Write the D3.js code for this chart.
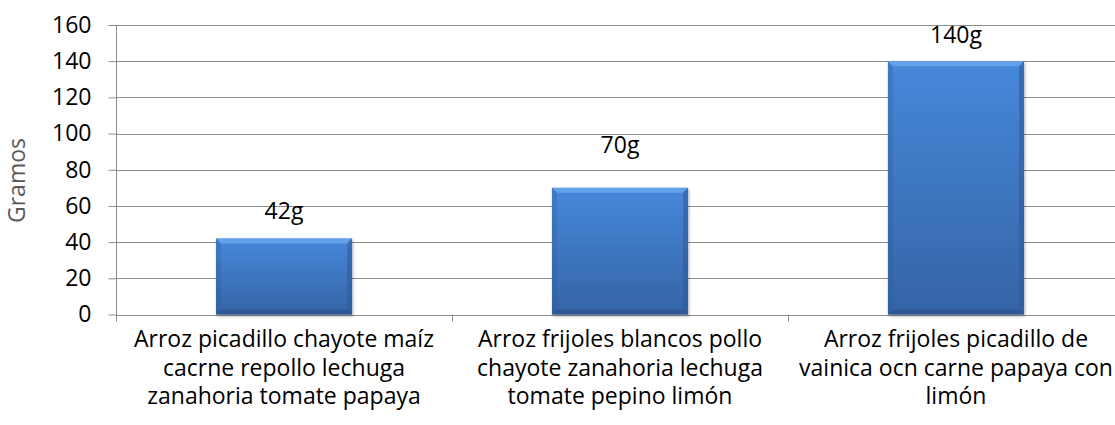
<!DOCTYPE html>
<html>
<head>
<meta charset="utf-8">
<script src="https://cdn.jsdelivr.net/npm/d3@7"></script>
<style>
  html, body { margin: 0; padding: 0; background: #fff; }
  svg { display: block; }
  text { font-family: "Open Sans", Lato, sans-serif; }
</style>
</head>
<body>
<svg id="chart" width="1115" height="425"></svg>
<script>
const categories = [
  ["Arroz picadillo chayote maíz", "cacrne repollo lechuga", "zanahoria tomate papaya"],
  ["Arroz frijoles blancos pollo", "chayote zanahoria lechuga", "tomate pepino limón"],
  ["Arroz frijoles picadillo de", "vainica ocn carne papaya con", "limón"]
];
const values = [42, 70, 140];
const valueLabels = ["42g", "70g", "140g"];
const yTicks = [0, 20, 40, 60, 80, 100, 120, 140, 160];
const yTitle = "Gramos";

(function () {
const svg = d3.select("#chart");
const W = 1115, H = 425;
const mLeft = 116, mRight = 1124, mTop = 25, mBottom = 314.5;
const FS = 23;

const keys = categories.map((c, i) => i);
const xBand = d3.scaleBand().domain(keys).range([mLeft, mRight]).paddingInner(0.595).paddingOuter(0.2976);
const xCat = d3.scaleBand().domain(keys).range([mLeft, mRight]).padding(0);
const y = d3.scaleLinear().domain([0, 160]).range([mBottom, mTop]);

const defs = svg.append("defs");
const grad = defs.append("linearGradient").attr("id", "barGrad").attr("x1", 0).attr("y1", 0).attr("x2", 0).attr("y2", 1);
grad.append("stop").attr("offset", "0%").attr("stop-color", "#4688da");
grad.append("stop").attr("offset", "100%").attr("stop-color", "#3564a6");
const filt = defs.append("filter").attr("id", "shadow").attr("x", "-10%").attr("y", "-10%").attr("width", "130%").attr("height", "130%");
filt.append("feDropShadow").attr("dx", 1).attr("dy", 1.5).attr("stdDeviation", 1.5).attr("flood-color", "#000").attr("flood-opacity", 0.3);

// gridlines
svg.append("g").selectAll("line").data(yTicks).join("line")
  .attr("x1", mLeft).attr("x2", W)
  .attr("y1", d => Math.round(y(d)) + 0.5).attr("y2", d => Math.round(y(d)) + 0.5)
  .attr("stroke", "#8c8c8c").attr("stroke-width", 1);

// y axis
const yAxis = d3.axisLeft(y).tickValues(yTicks).tickSize(8).tickPadding(17);
const yg = svg.append("g").attr("transform", `translate(${mLeft + 0.5},0)`).call(yAxis);
yg.select(".domain").attr("stroke", "#8c8c8c").attr("d", `M0,${mTop}V${mBottom + 6}`);
yg.selectAll(".tick line").attr("stroke", "#8c8c8c");
yg.selectAll(".tick text").attr("font-size", FS).attr("fill", "#000").attr("font-family", "'Open Sans', sans-serif");

// category ticks
const catTicks = keys.map(k => xCat(k)).concat([mRight]);
svg.append("g").selectAll("line").data(catTicks).join("line")
  .attr("x1", d => Math.round(d) + 0.5).attr("x2", d => Math.round(d) + 0.5)
  .attr("y1", mBottom).attr("y2", mBottom + 7)
  .attr("stroke", "#8c8c8c");

// bars
const bars = svg.append("g").selectAll("g").data(values).join("g").attr("filter", "url(#shadow)");
bars.append("rect")
  .attr("x", (d, i) => xBand(i)).attr("width", xBand.bandwidth())
  .attr("y", d => y(d)).attr("height", d => y(0) - y(d))
  .attr("fill", "url(#barGrad)");
const bv = 5;
bars.append("path").attr("fill", "#6aa6ec").attr("opacity", 0.85)
  .attr("d", (d, i) => {
    const x0 = xBand(i), x1 = x0 + xBand.bandwidth(), y0 = y(d);
    return `M${x0},${y0}L${x1},${y0}L${x1 - bv},${y0 + bv}L${x0 + bv},${y0 + bv}Z`;
  });
bars.append("path").attr("fill", "#2e5a98").attr("opacity", 0.55)
  .attr("d", (d, i) => {
    const x0 = xBand(i), x1 = x0 + xBand.bandwidth(), y0 = y(d), yb = y(0);
    return `M${x1},${y0}L${x1},${yb}L${x1 - bv},${yb - bv}L${x1 - bv},${y0 + bv}Z`;
  });
bars.append("path").attr("fill", "#2e5a98").attr("opacity", 0.3)
  .attr("d", (d, i) => {
    const x0 = xBand(i), y0 = y(d), yb = y(0);
    return `M${x0},${y0}L${x0},${yb}L${x0 + bv},${yb - bv}L${x0 + bv},${y0 + bv}Z`;
  });
bars.append("path").attr("fill", "#28508a").attr("opacity", 0.6)
  .attr("d", (d, i) => {
    const x0 = xBand(i), x1 = x0 + xBand.bandwidth(), yb = y(0);
    return `M${x0},${yb}L${x1},${yb}L${x1 - bv},${yb - bv}L${x0 + bv},${yb - bv}Z`;
  });

// value labels
const labelGap = [19.5, 35, 18];
svg.append("g").selectAll("text").data(values).join("text")
  .attr("x", (d, i) => xBand(i) + xBand.bandwidth() / 2)
  .attr("y", (d, i) => y(d) - labelGap[i])
  .attr("text-anchor", "middle").attr("font-size", FS).attr("fill", "#000")
  .text((d, i) => valueLabels[i]);

// category labels
const cl = svg.append("g").selectAll("text").data(categories).join("text")
  .attr("x", (d, i) => xCat(i) + xCat.bandwidth() / 2)
  .attr("y", 347)
  .attr("text-anchor", "middle").attr("font-size", FS).attr("fill", "#000");
cl.selectAll("tspan").data(d => d).join("tspan")
  .attr("x", function () { return d3.select(this.parentNode).attr("x"); })
  .attr("dy", (d, j) => j === 0 ? 0 : 28.5)
  .text(d => d);

// y title
svg.append("text")
  .attr("transform", `translate(25,180.5) rotate(-90)`)
  .attr("text-anchor", "middle").attr("font-size", 23).attr("fill", "#595959")
  .text(yTitle);
})();
</script>
</body>
</html>
